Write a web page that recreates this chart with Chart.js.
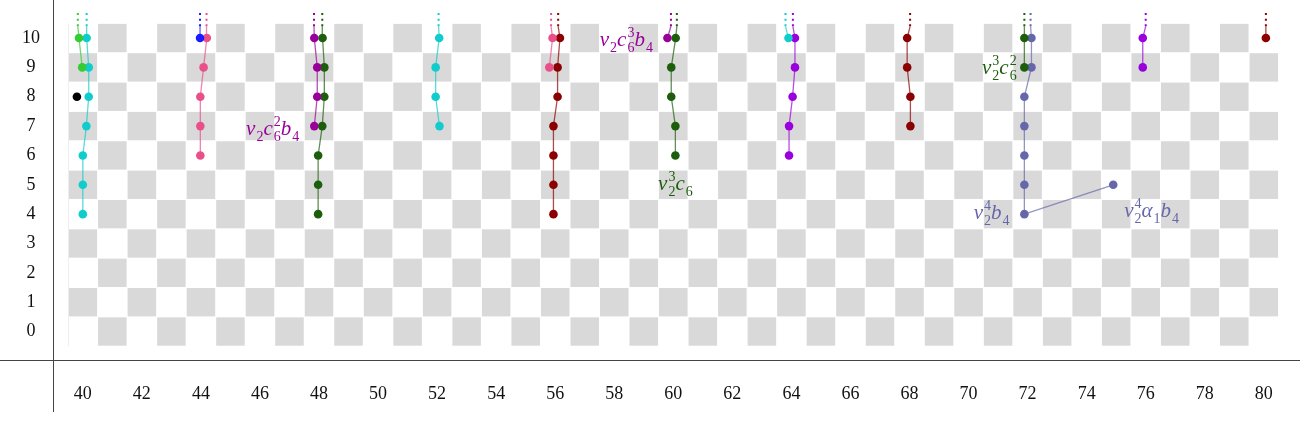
<!DOCTYPE html>
<html>
<head>
<meta charset="utf-8">
<title>Chart</title>
<script src="https://cdn.jsdelivr.net/npm/chart.js@4"></script>
<style>
    html, body { margin: 0; padding: 0; background: #ffffff; }
    #wrap { width: 1300px; height: 443px; }
</style>
</head>
<body>
<div id="wrap"><canvas id="myChart" width="1300" height="443"></canvas></div>
<script>
// tick labels
const xTickValues = [40, 42, 44, 46, 48, 50, 52, 54, 56, 58, 60, 62, 64, 66, 68, 70, 72, 74, 76, 78, 80];
const yTickValues = [0, 1, 2, 3, 4, 5, 6, 7, 8, 9, 10];

// each family: x positions (slightly shifted when sharing a spot), filtration, and x of the dotted tail
const greenX = [39.87, 39.98];
const greenY = [10, 9];
const greenTail = 39.83;

const cyanAX = [40.13, 40.2, 40.2, 40.12, 40, 40, 40];
const cyanAY = [10, 9, 8, 7, 6, 5, 4];
const cyanATail = 40.13;

const blackX = [39.8];
const blackY = [8];

const blueX = [43.97];
const blueY = [10];
const blueTail = 43.97;

const pinkAX = [44.2, 44.09, 43.98, 43.98, 43.98];
const pinkAY = [10, 9, 8, 7, 6];
const pinkATail = 44.19;

const purpleAX = [47.84, 47.94, 47.94, 47.84];
const purpleAY = [10, 9, 8, 7];
const purpleATail = 47.83;

const dgreenAX = [48.12, 48.18, 48.18, 48.11, 47.97, 47.97, 47.97];
const dgreenAY = [10, 9, 8, 7, 6, 5, 4];
const dgreenATail = 48.11;

const cyanBX = [52.07, 51.95, 51.95, 52.08];
const cyanBY = [10, 9, 8, 7];
const cyanBTail = 52.05;

const pinkBX = [55.91, 55.8];
const pinkBY = [10, 9];
const pinkBTail = 55.86;

const dredAX = [56.16, 56.08, 56.08, 55.94, 55.94, 55.94, 55.94];
const dredAY = [10, 9, 8, 7, 6, 5, 4];
const dredATail = 56.1;

const purpleBX = [59.8];
const purpleBY = [10];
const purpleBTail = 59.92;

const dgreenBX = [60.08, 59.93, 59.93, 60.07, 60.07];
const dgreenBY = [10, 9, 8, 7, 6];
const dgreenBTail = 60.12;

const cyanCX = [63.9];
const cyanCY = [10];
const cyanCTail = 63.8;

const violetAX = [64.12, 64.12, 64.04, 63.92, 63.92];
const violetAY = [10, 9, 8, 7, 6];
const violetATail = 64.05;

const dredBX = [67.92, 67.92, 68.03, 68.03];
const dredBY = [10, 9, 8, 7];
const dredBTail = 68.02;

const dgreenCX = [71.89, 71.89];
const dgreenCY = [10, 9];
const dgreenCTail = 71.89;

const slateX = [72.13, 72.13, 71.89, 71.89, 71.89, 71.89, 71.89, 74.9];
const slateY = [10, 9, 8, 7, 6, 5, 4, 5];
const slateTail = 72.1;

const violetBX = [75.9, 75.9];
const violetBY = [10, 9];
const violetBTail = 76.0;

const dredCX = [80.07];
const dredCY = [10];
const dredCTail = 80.07;

// class names written next to some dots (_ = subscript, ^ = superscript)
const noteTexts = ['v_2c_6^2b_4', 'v_2c_6^3b_4', 'v_2^3c_6', 'v_2^3c_6^2', 'v_2^4b_4', 'v_2^4α_1b_4'];
const noteX = [47.33, 59.31, 60.07, 71.63, 71.39, 75.27];
const noteY = [6.87, 9.9, 4.98, 8.96, 4.0, 4.07];

// colours
const GREEN = '#33cc33';
const CYAN = '#11cccc';
const BLACK = '#000000';
const BLUE = '#1a1aff';
const PINK = '#e9508a';
const PURPLE = '#990099';
const DGREEN = '#1d5e0c';
const DRED = '#8b0000';
const VIOLET = '#9900dd';
const SLATE = '#6666aa';

const noteColors = [PURPLE, PURPLE, DGREEN, DGREEN, SLATE, SLATE];
const noteAlign = ['right', 'right', 'center', 'right', 'right', 'left'];

const families = [
    [greenX, greenY, greenTail, GREEN],
    [cyanAX, cyanAY, cyanATail, CYAN],
    [blackX, blackY, null, BLACK],
    [blueX, blueY, blueTail, BLUE],
    [pinkAX, pinkAY, pinkATail, PINK],
    [purpleAX, purpleAY, purpleATail, PURPLE],
    [dgreenAX, dgreenAY, dgreenATail, DGREEN],
    [cyanBX, cyanBY, cyanBTail, CYAN],
    [pinkBX, pinkBY, pinkBTail, PINK],
    [dredAX, dredAY, dredATail, DRED],
    [purpleBX, purpleBY, purpleBTail, PURPLE],
    [dgreenBX, dgreenBY, dgreenBTail, DGREEN],
    [cyanCX, cyanCY, cyanCTail, CYAN],
    [violetAX, violetAY, violetATail, VIOLET],
    [dredBX, dredBY, dredBTail, DRED],
    [dgreenCX, dgreenCY, dgreenCTail, DGREEN],
    [slateX, slateY, slateTail, SLATE],
    [violetBX, violetBY, violetBTail, VIOLET],
    [dredCX, dredCY, dredCTail, DRED],
];

function fade(hex, a) {
    const n = parseInt(hex.slice(1), 16);
    return `rgba(${(n >> 16) & 255}, ${(n >> 8) & 255}, ${n & 255}, ${a})`;
}

function buildDatasets() {
    const out = [];
    families.forEach(([xs, ys, tail, color]) => {
        // the chain itself
        out.push({
            data: xs.map((x, i) => ({x: x, y: ys[i]})),
            showLine: true,
            borderColor: fade(color, 0.7),
            borderWidth: 1.3,
            pointRadius: 4.3,
            pointBorderWidth: 0,
            pointBackgroundColor: color,
            order: 1,
        });
        if (tail === null) return;
        // short solid stub going up, then dots meaning "continues"
        out.push({
            data: [{x: xs[0], y: ys[0]}, {x: tail, y: 10.4}],
            showLine: true,
            borderColor: fade(color, 0.7),
            borderWidth: 1.3,
            pointRadius: 0,
            order: 2,
        });
        out.push({
            data: [{x: tail, y: 10.4}, {x: tail, y: 10.97}],
            showLine: true,
            borderColor: color,
            borderWidth: 2,
            borderDash: [2, 3.6],
            pointRadius: 0,
            order: 2,
        });
    });
    return out;
}

// light grey / white squares behind everything
const checkerPlugin = {
    id: 'checker',
    beforeDatasetsDraw(chart) {
        const c = chart.ctx;
        const xs = chart.scales.x, ys = chart.scales.y;
        c.save();
        for (let i = 40; i <= 80; i++) {
            for (let j = 0; j <= 10; j++) {
                if ((i + j) % 2 === 0) continue;
                const l = xs.getPixelForValue(i - 0.5), r = xs.getPixelForValue(i + 0.5);
                const t = ys.getPixelForValue(j + 0.5), b = ys.getPixelForValue(j - 0.5);
                c.fillStyle = '#d9d9d9';
                c.fillRect(l + 0.5, t + 0.5, r - l - 1, b - t - 1);
            }
        }
        c.strokeStyle = '#eeeeee';
        c.lineWidth = 1;
        c.beginPath();
        const x0 = Math.round(xs.getPixelForValue(39.5)) + 0.5;
        c.moveTo(x0, ys.getPixelForValue(10.5));
        c.lineTo(x0, ys.getPixelForValue(-0.5));
        c.stroke();
        c.restore();
    }
};

// draws "v_2c_6^2b_4" style names in italic with stacked sub/superscripts
function parseNote(s) {
    const parts = [];
    const chars = Array.from(s);
    let k = 0;
    while (k < chars.length) {
        const p = {base: chars[k], sub: '', sup: ''};
        k++;
        while (k < chars.length && (chars[k] === '_' || chars[k] === '^')) {
            if (chars[k] === '_') p.sub = chars[k + 1];
            else p.sup = chars[k + 1];
            k += 2;
        }
        parts.push(p);
    }
    return parts;
}

const BASE_FONT = 'italic 21px "Liberation Serif", "DejaVu Serif", serif';
const SMALL_FONT = '14px "Liberation Serif", "DejaVu Serif", serif';

function measureNote(c, parts) {
    let w = 0;
    parts.forEach(p => {
        c.font = BASE_FONT;
        w += c.measureText(p.base).width + 1;
        c.font = SMALL_FONT;
        w += Math.max(c.measureText(p.sub).width, c.measureText(p.sup).width);
    });
    return w;
}

const notesPlugin = {
    id: 'notes',
    afterDatasetsDraw(chart) {
        const c = chart.ctx;
        const xs = chart.scales.x, ys = chart.scales.y;
        c.save();
        c.textBaseline = 'alphabetic';
        c.textAlign = 'left';
        noteTexts.forEach((txt, i) => {
            const parts = parseNote(txt);
            const w = measureNote(c, parts);
            let x = xs.getPixelForValue(noteX[i]);
            if (noteAlign[i] === 'right') x -= w;
            else if (noteAlign[i] === 'center') x -= w / 2;
            const base = ys.getPixelForValue(noteY[i]) + 5;
            c.fillStyle = noteColors[i];
            parts.forEach(p => {
                c.font = BASE_FONT;
                c.fillText(p.base, x, base);
                x += c.measureText(p.base).width + 1;
                c.font = SMALL_FONT;
                if (p.sup) c.fillText(p.sup, x, base - 9);
                if (p.sub) c.fillText(p.sub, x, base + 6);
                x += Math.max(c.measureText(p.sub).width, c.measureText(p.sup).width);
            });
        });

        // the two crossing axis rules
        const area = chart.chartArea;
        c.strokeStyle = '#444444';
        c.lineWidth = 1;
        c.beginPath();
        c.moveTo(0, Math.round(area.bottom) + 0.5);
        c.lineTo(chart.width, Math.round(area.bottom) + 0.5);
        c.moveTo(Math.round(area.left) + 0.5, 0);
        c.lineTo(Math.round(area.left) + 0.5, area.bottom + 52);
        c.stroke();
        c.restore();
    }
};

function noPadding(axis) {
    axis.paddingTop = 0;
    axis.paddingBottom = 0;
    axis.paddingLeft = 0;
    axis.paddingRight = 0;
}

function makeChart() {
    const ctx = document.getElementById('myChart');
    const tickFont = {family: '"Liberation Serif", "DejaVu Serif", serif', size: 18};
    new Chart(ctx, {
        type: 'scatter',
        data: {datasets: buildDatasets()},
        options: {
            responsive: false,
            animation: false,
            layout: {padding: 0},
            plugins: {
                legend: {display: false},
                tooltip: {enabled: false},
            },
            scales: {
                x: {
                    type: 'linear',
                    min: 38.99,
                    max: 81.08,
                    border: {display: false},
                    grid: {display: false, drawTicks: false},
                    ticks: {
                        color: '#111111',
                        font: tickFont,
                        padding: 23,
                        maxRotation: 0,
                        autoSkip: false,
                    },
                    afterBuildTicks: axis => { axis.ticks = xTickValues.map(v => ({value: v})); },
                    afterFit: axis => { axis.height = 83; noPadding(axis); },
                },
                y: {
                    type: 'linear',
                    min: -0.97,
                    max: 11.15,
                    border: {display: false},
                    grid: {display: false, drawTicks: false},
                    ticks: {
                        color: '#111111',
                        font: tickFont,
                        padding: 13,
                        crossAlign: 'center',
                        autoSkip: false,
                    },
                    afterBuildTicks: axis => { axis.ticks = yTickValues.map(v => ({value: v})); },
                    afterFit: axis => { axis.width = 53; noPadding(axis); },
                },
            },
        },
        plugins: [checkerPlugin, notesPlugin],
    });
}

document.addEventListener('DOMContentLoaded', makeChart);
</script>
</body>
</html>
